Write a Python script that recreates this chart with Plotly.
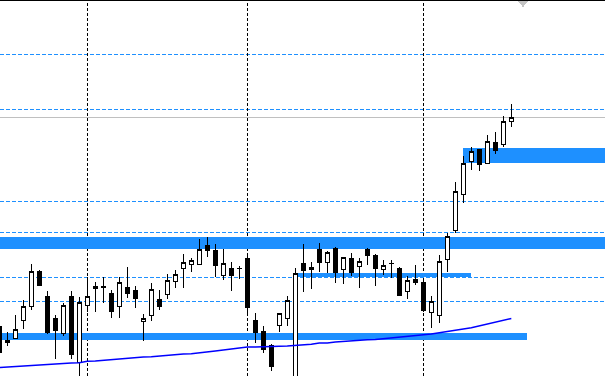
import plotly.graph_objects as go

# Bar index (one per candle); -1 is the partially visible first bar
bar_index = list(range(-1, 64))

open_ = [74, 57.7, 61.5, 79.3, 93.3, 129, 104, 82, 67, 104,
         37.3, 94.7, 111.5, 113.3, 106.7, 93.5, 112.7, 109.5, 78.5, 84.3,
         101, 105.7, 118.5, 131.7, 135.7, 135.7, 155, 150, 124.5, 131.7,
         132, 141.7, 80, 69, 55, 74.3, 81.7, 22, 136.7, 130.7,
         150.7, 137.3, 151.7, 130.7, 141.7, 133.3, 150.7, 145, 130.7, 137,
         131.7, 108.3, 121, 118, 87.7, 84.3, 140.7, 169.3, 205.7, 238.7,
         251, 236.7, 257.8, 255.5, 278.7]
high = [78, 68, 85, 100, 136.3, 130.5, 109.3, 85, 97, 109.3,
        103.3, 123.3, 118.3, 123, 110, 123.5, 132.7, 114, 86, 116.7,
        110, 126, 130, 146, 142.5, 161, 163.3, 156, 151, 138,
        134, 147.3, 86.7, 74, 56.5, 87, 104, 131.7, 156, 138.5,
        156.7, 149.3, 152.7, 143, 146.7, 141.7, 151.7, 145.7, 140, 140,
        133.3, 124.3, 135, 121, 104, 145, 167, 218, 244, 253.5,
        251.5, 265, 268, 284, 296]
low = [44, 54.5, 61.5, 70.7, 90, 114, 66, 41.5, 64, 40.7,
       22, 88.3, 88.3, 97, 81.7, 81.7, 101.7, 92.3, 59, 79,
       90, 101, 111.7, 111.7, 128.3, 135.7, 143.3, 123, 120.3, 109.3,
       120.7, 84, 57.5, 47, 29.5, 67.7, 74.3, 20, 108.3, 111.5,
       128.3, 127.3, 116.7, 115.7, 124, 112.3, 135.5, 114.3, 125.5, 122,
       104, 101, 115, 88, 72.3, 77.3, 128.3, 166.7, 196.7, 230.5,
       229.3, 236.7, 246.5, 253.3, 273.3]
close = [47.3, 59.7, 70.7, 94, 129, 115, 67.3, 70, 95, 46,
         98, 104, 114, 112.5, 88.3, 117.7, 106.3, 101.5, 81.7, 110.7,
         93.3, 119.7, 125.7, 137.7, 139.7, 150.7, 149.3, 134.3, 136.7, 124.3,
         131.3, 92.3, 67.3, 50.3, 33.3, 86.7, 100, 126.7, 129.3, 132.7,
         137.3, 147.7, 127.5, 142.7, 127.5, 138.3, 144.2, 131.5, 134.7, 136.3,
         105, 119.7, 117.5, 90, 98.3, 139, 163.7, 209, 236.7, 249,
         235.5, 258.7, 249.3, 278.8, 282.7]
moving_avg = [32.5, 33, 33.7, 34, 35, 35.7, 36, 36.7, 36.7, 37,
              37.3, 38.7, 39, 39.7, 40.7, 41, 42, 42.7, 43, 43.3,
              44, 45, 45.3, 46, 46.3, 47, 47.7, 49, 50, 51,
              52, 53, 53, 53, 53.3, 53.7, 54, 54.5, 55, 55.7,
              57, 57, 58, 58.7, 59.3, 59.5, 60.3, 60.5, 61.3, 62.3,
              62.5, 64, 64.7, 65.5, 66, 67.3, 68.3, 69.7, 71, 72.3,
              74, 76, 77.5, 79.5, 81.5]

# Horizontal dashed levels
level_prices = [346, 290.7, 198.7, 167.7, 122.7, 98.7]
# Vertical dashed separators (bar index)
separator_bars = [10, 30, 52]
# Zones: (start bar, end bar, low price, high price); None = open-ended
zone_start = [None, None, 57, 36]
zone_end = [None, 65, None, 58]
zone_low = [151, 60, 237, 123]
zone_high = [163, 67, 252, 127.3]

BLUE = "#1E90FF"
X_MIN, X_MAX = -0.9125, 74.71
Y_MIN, Y_MAX = 24, 400

fig = go.Figure()

fig.add_trace(go.Scatter(
    x=bar_index, y=moving_avg, mode="lines",
    line=dict(color="#0000FF", width=1.4), hoverinfo="skip", showlegend=False))

fig.add_trace(go.Candlestick(
    x=bar_index, open=open_, high=high, low=low, close=close,
    increasing=dict(line=dict(color="black", width=1), fillcolor="white"),
    decreasing=dict(line=dict(color="black", width=1), fillcolor="black"),
    whiskerwidth=0, showlegend=False))

shapes = []
for s, e, lo, hi in zip(zone_start, zone_end, zone_low, zone_high):
    shapes.append(dict(type="rect", xref="x", yref="y",
                       x0=X_MIN - 5 if s is None else s,
                       x1=X_MAX + 5 if e is None else e,
                       y0=lo, y1=hi, fillcolor=BLUE, line=dict(width=0),
                       layer="below"))
for p in level_prices:
    shapes.append(dict(type="line", xref="paper", yref="y", x0=0, x1=1, y0=p, y1=p,
                       line=dict(color=BLUE, width=1, dash="4px,2px"), layer="below"))
for b in separator_bars:
    shapes.append(dict(type="line", xref="x", yref="paper", x0=b, x1=b, y0=0, y1=1,
                       line=dict(color="black", width=1, dash="3px,2px"), layer="below"))
# bid line at last close
shapes.append(dict(type="line", xref="paper", yref="y", x0=0, x1=1,
                   y0=close[-1], y1=close[-1],
                   line=dict(color="#C0C0C0", width=1), layer="below"))
# top border (one pixel row)
shapes.append(dict(type="rect", xref="paper", yref="paper", x0=0, x1=1,
                   y0=1 - 1.2 / 376, y1=1, fillcolor="black", line=dict(width=0)))
# shift marker triangle
shapes.append(dict(type="path", xref="paper", yref="paper",
                   path="M 0.856,0.997 L 0.873,0.997 L 0.8645,0.981 Z",
                   fillcolor="#C4C4C4", line=dict(width=0)))

fig.update_layout(
    width=605, height=376,
    margin=dict(l=0, r=0, t=0, b=0),
    paper_bgcolor="white", plot_bgcolor="white",
    shapes=shapes, boxgap=0.38,
    xaxis=dict(range=[X_MIN, X_MAX], visible=False, rangeslider=dict(visible=False),
               showgrid=False, zeroline=False),
    yaxis=dict(range=[Y_MIN, Y_MAX], visible=False, showgrid=False, zeroline=False),
    hovermode=False,
)

fig.write_html(
    "out.html",
    config={"displayModeBar": False, "staticPlot": True},
    post_script=(
        "document.body.style.margin='0';"
        "document.body.style.overflow='hidden';"
        "document.querySelectorAll('.shapelayer path, .boxlayer path')"
        ".forEach(function(p){p.style.shapeRendering='crispEdges';});"
    ),
)
